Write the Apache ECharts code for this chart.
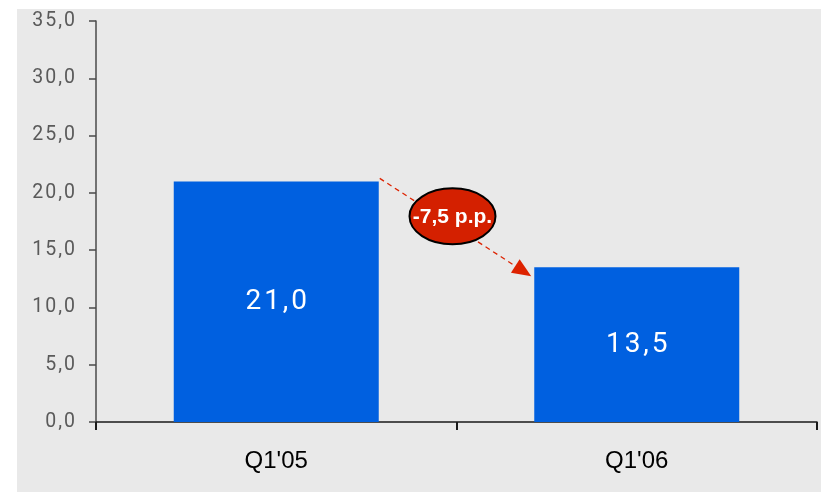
<!DOCTYPE html>
<html>
<head>
<meta charset="utf-8">
<script src="https://cdn.jsdelivr.net/npm/echarts@6/dist/echarts.min.js"></script>
<style>
  html, body { margin: 0; padding: 0; background: #ffffff; }
  #chart { width: 821px; height: 493px; }
</style>
</head>
<body>
<div id="chart"></div>
<script>
// Quarterly values
const categories = ["Q1'05", "Q1'06"];
const values = [21.0, 13.5];
const yTicks = [0, 5, 10, 15, 20, 25, 30, 35];
const changeLabel = '-7,5 p.p.';

// Decimal comma, with a hair space between glyphs for the airy number style
const fmt = v => v.toFixed(1).replace('.', ',').split('').join('\u200A');

const chart = echarts.init(document.getElementById('chart'));

const bg = {
  type: 'rect', z: -10, silent: true,
  shape: { x: 17, y: 9, width: 804, height: 483 },
  style: { fill: '#e9e9e9' }
};

chart.setOption({
  animation: false,
  grid: { left: 96, right: 4, top: 21, bottom: 71 },
  graphic: [bg],
  xAxis: {
    type: 'category',
    data: categories,
    axisLine: { lineStyle: { color: '#1a1a1a', width: 1.5 } },
    axisTick: { show: true, length: 8, lineStyle: { color: '#1a1a1a', width: 2 } },
    axisLabel: { color: '#000000', fontSize: 24, fontFamily: 'Liberation Sans, Arial, sans-serif', margin: 27 }
  },
  yAxis: {
    type: 'value',
    min: yTicks[0], max: yTicks[yTicks.length - 1], interval: 5,
    splitLine: { show: false },
    axisLine: { show: true, lineStyle: { color: '#4a4a4a', width: 1.5 } },
    axisTick: { show: true, length: 7, lineStyle: { color: '#4a4a4a', width: 1.5 } },
    axisLabel: { color: '#5a5a5a', fontSize: 19.5, fontFamily: 'Roboto, sans-serif', margin: 21,
      formatter: v => fmt(v) }
  },
  series: [{
    type: 'bar',
    data: values,
    barWidth: 205,
    itemStyle: { color: '#0060e0' },
    label: {
      show: true, position: 'inside', color: '#ffffff', fontSize: 28,
      fontFamily: 'Roboto, sans-serif',
      formatter: p => fmt(p.value)
    }
  }]
});

// Dashed arrow from the top of the first bar to the top of the second, with the change badge
const p0 = chart.convertToPixel({ seriesIndex: 0 }, [0, values[0]]);
const p1 = chart.convertToPixel({ seriesIndex: 0 }, [1, values[1]]);
const half = 205 / 2;
const x1 = p0[0] + half + 1, y1 = p0[1] - 3;
const x2 = p1[0] - half - 3, y2 = p1[1] + 9;
const ang = Math.atan2(y2 - y1, x2 - x1);
const hl = 19, hw = 8;
const bx = x2 - hl * Math.cos(ang), by = y2 - hl * Math.sin(ang);
const nx = -Math.sin(ang), ny = Math.cos(ang);
const mx = (x1 + x2) / 2 - 3, my = (y1 + y2) / 2 - 11;

chart.setOption({
  graphic: [
    bg,
    {
      type: 'line', z: 10, silent: true,
      shape: { x1: x1, y1: y1, x2: bx, y2: by },
      style: { stroke: '#dd2200', lineWidth: 1.3, lineDash: [5, 4] }
    },
    {
      type: 'polygon', z: 10, silent: true,
      shape: { points: [[x2, y2], [bx + nx * hw, by + ny * hw], [bx - nx * hw, by - ny * hw]] },
      style: { fill: '#dd2200' }
    },
    {
      type: 'ellipse', z: 11, silent: true,
      shape: { cx: mx, cy: my, rx: 43, ry: 28 },
      style: { fill: '#d42000', stroke: '#000000', lineWidth: 2 }
    },
    {
      type: 'text', z: 12, silent: true,
      x: mx, y: my + 1,
      style: {
        text: changeLabel, fill: '#ffffff', fontSize: 21, fontWeight: 'bold',
        fontFamily: 'Liberation Sans, Arial, sans-serif', align: 'center', verticalAlign: 'middle'
      }
    }
  ]
});
</script>
</body>
</html>
